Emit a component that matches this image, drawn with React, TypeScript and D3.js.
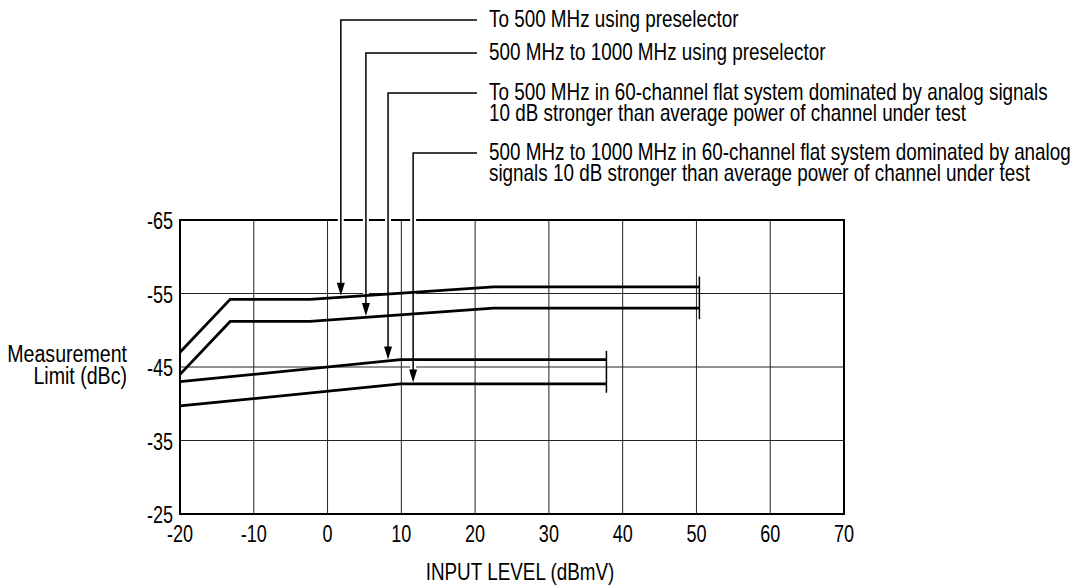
import React from "react";
import * as d3 from "d3";

// ---- data ----
const X_TICKS = [-20, -10, 0, 10, 20, 30, 40, 50, 60, 70];
const Y_TICKS = [-65, -55, -45, -35, -25];

// Preselector curves (to 50 dBmV)
const PRESEL_X = [-20, -13.2, -2.4, 22.5, 50.4];
const PRESEL_500_Y = [-47, -54.2, -54.2, -55.9, -55.9];
const PRESEL_1000_Y = [-44, -51.2, -51.2, -53, -53];

// 60-channel flat system curves (to ~38 dBmV)
const FLAT_X = [-20, 9.9, 37.8];
const FLAT_500_Y = [-43, -46, -46];
const FLAT_1000_Y = [-39.7, -42.7, -42.7];

// End bars: [x, yFrom, yTo]
const END_BARS: [number, number, number][] = [
  [50.4, -57.3, -51.5],
  [37.8, -47.2, -41.5],
];

// Annotations
const LABELS: string[][] = [
  ["To 500 MHz using preselector"],
  ["500 MHz to 1000 MHz using preselector"],
  [
    "To 500 MHz in 60-channel flat system dominated by analog signals",
    "10 dB stronger than average power of channel under test",
  ],
  [
    "500 MHz to 1000 MHz in 60-channel flat system dominated by analog",
    "signals 10 dB stronger than average power of channel under test",
  ],
];
const ARROW_X = [1.8, 5.2, 8.2, 11.6];
const LEADER_Y = [20, 53, 93, 153];

const Y_TITLE = ["Measurement", "Limit (dBc)"];
const X_TITLE = "INPUT LEVEL (dBmV)";

// ---- layout ----
const W = 1089;
const H = 588;
const L = 180, R = 844, T = 220, B = 514;
const FONT = "'Liberation Sans', Arial, Helvetica, sans-serif";

export default function App() {
  const x = d3.scaleLinear().domain([-20, 70]).range([L, R]);
  const y = d3.scaleLinear().domain([-65, -25]).range([T, B]);

  const series = [
    { xs: PRESEL_X, ys: PRESEL_500_Y },
    { xs: PRESEL_X, ys: PRESEL_1000_Y },
    { xs: FLAT_X, ys: FLAT_500_Y },
    { xs: FLAT_X, ys: FLAT_1000_Y },
  ];

  const line = d3
    .line<[number, number]>()
    .x((d) => x(d[0]))
    .y((d) => y(d[1]));

  const interp = (xs: number[], ys: number[], v: number) => {
    for (let i = 0; i < xs.length - 1; i++) {
      if (v >= xs[i] && v <= xs[i + 1]) {
        const t = (v - xs[i]) / (xs[i + 1] - xs[i]);
        return ys[i] + t * (ys[i + 1] - ys[i]);
      }
    }
    return ys[ys.length - 1];
  };

  const leaderEnd = 477;
  const textX = 489;

  const Txt = ({
    tx,
    ty,
    anchor = "start",
    size = 24,
    sx = 0.786,
    children,
  }: {
    tx: number;
    ty: number;
    anchor?: string;
    size?: number;
    sx?: number;
    children: React.ReactNode;
  }) => (
    <text
      transform={`translate(${tx},${ty}) scale(${sx},1)`}
      textAnchor={anchor as any}
      fontFamily={FONT}
      fontSize={size}
      fill="#000"
    >
      {children}
    </text>
  );

  return (
    <svg
      width={W}
      height={H}
      style={{ position: "absolute", left: 0, top: 0, background: "#fff" }}
    >
      {/* grid */}
      <g stroke="#222" strokeWidth={1}>
        {X_TICKS.slice(1, -1).map((t) => (
          <line key={"gx" + t} x1={x(t)} x2={x(t)} y1={T} y2={B} />
        ))}
        {Y_TICKS.slice(1, -1).map((t) => (
          <line key={"gy" + t} x1={L} x2={R} y1={y(t)} y2={y(t)} />
        ))}
      </g>
      {/* frame */}
      <rect x={L} y={T} width={R - L} height={B - T} fill="none" stroke="#000" strokeWidth={2} />

      {/* arrow halos */}
      {ARROW_X.map((ax, i) => {
        const s = series[i];
        const tipY = y(interp(s.xs, s.ys, ax)) - 1.5;
        return (
          <line
            key={"h" + i}
            x1={x(ax)}
            x2={x(ax)}
            y1={LEADER_Y[i]}
            y2={tipY - 12}
            stroke="#fff"
            strokeWidth={6}
          />
        );
      })}

      {/* arrows and leaders */}
      {ARROW_X.map((ax, i) => {
        const s = series[i];
        const px = x(ax);
        const tipY = y(interp(s.xs, s.ys, ax)) - 1.5;
        return (
          <g key={"a" + i}>
            <path
              d={`M${leaderEnd},${LEADER_Y[i]} H${px} V${tipY - 10}`}
              fill="none"
              stroke="#000"
              strokeWidth={1.5}
            />
            <path
              d={`M${px},${tipY} L${px - 4},${tipY - 13} L${px + 4},${tipY - 13} Z`}
              fill="#000"
            />
          </g>
        );
      })}

      {/* curves */}
      {series.map((s, i) => (
        <path
          key={"c" + i}
          d={line(s.xs.map((v, j) => [v, s.ys[j]] as [number, number])) || ""}
          fill="none"
          stroke="#000"
          strokeWidth={2.8}
          strokeLinejoin="miter"
        />
      ))}

      {/* end bars */}
      {END_BARS.map(([bx, y0, y1], i) => (
        <line
          key={"e" + i}
          x1={x(bx)}
          x2={x(bx)}
          y1={y(y0)}
          y2={y(y1)}
          stroke="#000"
          strokeWidth={1.5}
        />
      ))}

      {/* annotation text */}
      {LABELS.map((lines, i) =>
        lines.map((t, j) => (
          <Txt key={"l" + i + j} tx={textX} ty={LEADER_Y[i] + 7 + j * 20.5}>
            {t}
          </Txt>
        ))
      )}

      {/* y tick labels */}
      {Y_TICKS.map((t) => (
        <Txt key={"yl" + t} tx={173} ty={y(t) + 9} anchor="end" size={23} sx={0.785}>
          {String(t)}
        </Txt>
      ))}

      {/* x tick labels */}
      {X_TICKS.map((t) => (
        <Txt key={"xl" + t} tx={x(t)} ty={542} anchor="middle" size={23} sx={0.785}>
          {String(t)}
        </Txt>
      ))}

      {/* axis titles */}
      {Y_TITLE.map((t, i) => (
        <Txt key={"yt" + i} tx={127} ty={362 + i * 22} anchor="end" size={24.5} sx={0.8}>
          {t}
        </Txt>
      ))}
      <Txt tx={520} ty={580} anchor="middle">
        {X_TITLE}
      </Txt>
    </svg>
  );
}
